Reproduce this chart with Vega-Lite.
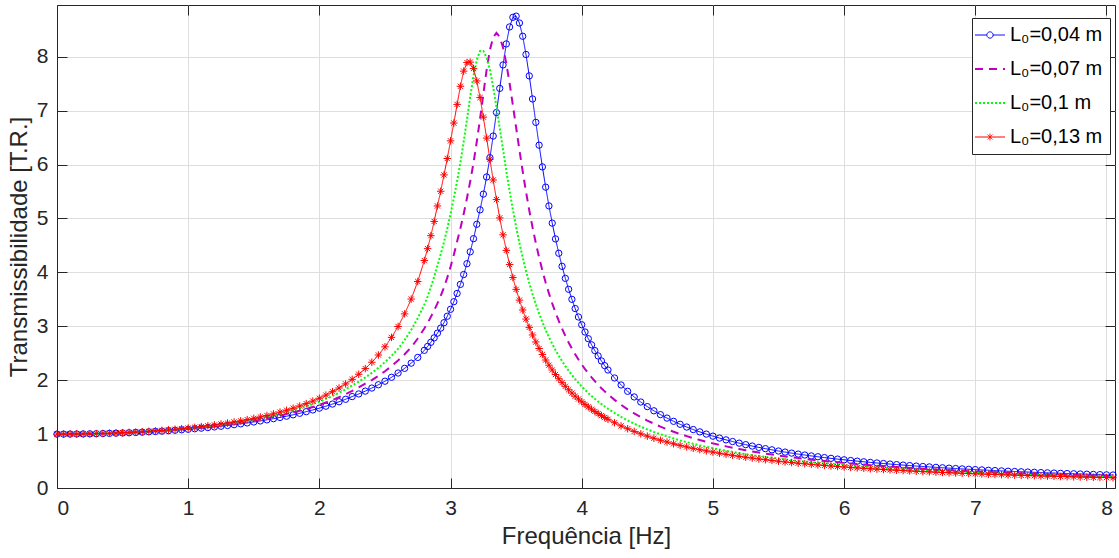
{
  "$schema": "https://vega.github.io/schema/vega-lite/v6.json",
  "width": 1058,
  "height": 483,
  "autosize": {"type": "none"},
  "padding": {"left": 57, "top": 5, "right": 4, "bottom": 70},
  "background": "white",
  "config": {
    "view": {"stroke": "#262626", "strokeWidth": 1},
    "font": "Liberation Sans",
    "axis": {
      "labelFont": "Liberation Sans", "labelFontSize": 21, "labelColor": "#262626",
      "titleFont": "Liberation Sans", "titleFontSize": 24, "titleFontWeight": "normal", "titleColor": "#262626",
      "domainColor": "#262626", "tickColor": "#262626", "gridColor": "#dedede", "gridWidth": 1,
      "tickSize": -10, "labelPadding": 19
    }
  },
  "data": {"values": [
    {"f":0,"a":1,"b":1,"c":1,"d":1},
    {"f":0.05,"a":1.000,"b":1.000,"c":1.000,"d":1.000},
    {"f":0.1,"a":1.001,"b":1.001,"c":1.001,"d":1.001},
    {"f":0.15,"a":1.002,"b":1.002,"c":1.002,"d":1.002},
    {"f":0.2,"a":1.003,"b":1.004,"c":1.004,"d":1.004},
    {"f":0.25,"a":1.005,"b":1.006,"c":1.006,"d":1.006},
    {"f":0.3,"a":1.007,"b":1.008,"c":1.009,"d":1.009},
    {"f":0.35,"a":1.010,"b":1.011,"c":1.012,"d":1.012},
    {"f":0.4,"a":1.013,"b":1.014,"c":1.015,"d":1.016},
    {"f":0.45,"a":1.017,"b":1.018,"c":1.020,"d":1.021},
    {"f":0.5,"a":1.021,"b":1.023,"c":1.024,"d":1.026},
    {"f":0.55,"a":1.025,"b":1.028,"c":1.029,"d":1.031},
    {"f":0.6,"a":1.030,"b":1.033,"c":1.035,"d":1.038},
    {"f":0.65,"a":1.036,"b":1.039,"c":1.042,"d":1.044},
    {"f":0.7,"a":1.042,"b":1.045,"c":1.049,"d":1.052},
    {"f":0.75,"a":1.048,"b":1.052,"c":1.056,"d":1.060},
    {"f":0.8,"a":1.055,"b":1.060,"c":1.064,"d":1.069},
    {"f":0.85,"a":1.063,"b":1.068,"c":1.073,"d":1.079},
    {"f":0.9,"a":1.071,"b":1.077,"c":1.083,"d":1.089},
    {"f":0.95,"a":1.080,"b":1.087,"c":1.093,"d":1.100},
    {"f":1.0,"a":1.089,"b":1.097,"c":1.105,"d":1.112},
    {"f":1.05,"a":1.099,"b":1.108,"c":1.117,"d":1.125},
    {"f":1.1,"a":1.110,"b":1.120,"c":1.129,"d":1.139},
    {"f":1.15,"a":1.121,"b":1.133,"c":1.143,"d":1.154},
    {"f":1.2,"a":1.133,"b":1.146,"c":1.158,"d":1.170},
    {"f":1.25,"a":1.146,"b":1.161,"c":1.174,"d":1.187},
    {"f":1.3,"a":1.160,"b":1.176,"c":1.190,"d":1.205},
    {"f":1.35,"a":1.175,"b":1.193,"c":1.209,"d":1.225},
    {"f":1.4,"a":1.190,"b":1.210,"c":1.228,"d":1.246},
    {"f":1.45,"a":1.207,"b":1.229,"c":1.248,"d":1.268},
    {"f":1.5,"a":1.225,"b":1.249,"c":1.270,"d":1.292},
    {"f":1.55,"a":1.244,"b":1.270,"c":1.293,"d":1.318},
    {"f":1.6,"a":1.264,"b":1.293,"c":1.318,"d":1.345},
    {"f":1.65,"a":1.286,"b":1.316,"c":1.345,"d":1.375},
    {"f":1.7,"a":1.309,"b":1.342,"c":1.374,"d":1.408},
    {"f":1.75,"a":1.332,"b":1.370,"c":1.405,"d":1.443},
    {"f":1.8,"a":1.358,"b":1.400,"c":1.439,"d":1.480},
    {"f":1.85,"a":1.386,"b":1.432,"c":1.475,"d":1.521},
    {"f":1.9,"a":1.416,"b":1.466,"c":1.514,"d":1.565},
    {"f":1.95,"a":1.448,"b":1.503,"c":1.556,"d":1.613},
    {"f":2.0,"a":1.481,"b":1.543,"c":1.602,"d":1.665},
    {"f":2.05,"a":1.518,"b":1.587,"c":1.652,"d":1.723},
    {"f":2.1,"a":1.557,"b":1.633,"c":1.706,"d":1.786},
    {"f":2.15,"a":1.600,"b":1.684,"c":1.765,"d":1.855},
    {"f":2.2,"a":1.646,"b":1.739,"c":1.830,"d":1.931},
    {"f":2.25,"a":1.696,"b":1.800,"c":1.902,"d":2.016},
    {"f":2.3,"a":1.745,"b":1.866,"c":1.973,"d":2.110},
    {"f":2.35,"a":1.797,"b":1.938,"c":2.051,"d":2.215},
    {"f":2.4,"a":1.854,"b":2.003,"c":2.136,"d":2.333},
    {"f":2.45,"a":1.915,"b":2.081,"c":2.230,"d":2.467},
    {"f":2.5,"a":1.981,"b":2.166,"c":2.335,"d":2.619},
    {"f":2.55,"a":2.054,"b":2.261,"c":2.451,"d":2.794},
    {"f":2.6,"a":2.133,"b":2.365,"c":2.581,"d":2.996},
    {"f":2.65,"a":2.220,"b":2.481,"c":2.745,"d":3.230},
    {"f":2.7,"a":2.316,"b":2.610,"c":2.933,"d":3.505},
    {"f":2.75,"a":2.422,"b":2.773,"c":3.151,"d":3.831},
    {"f":2.8,"a":2.554,"b":2.958,"c":3.400,"d":4.219},
    {"f":2.825,"a":2.626,"b":3.060,"c":3.552,"d":4.440},
    {"f":2.85,"a":2.703,"b":3.174,"c":3.725,"d":4.681},
    {"f":2.875,"a":2.785,"b":3.294,"c":3.917,"d":4.945},
    {"f":2.9,"a":2.872,"b":3.424,"c":4.129,"d":5.232},
    {"f":2.925,"a":2.966,"b":3.565,"c":4.337,"d":5.505},
    {"f":2.95,"a":3.066,"b":3.718,"c":4.564,"d":5.808},
    {"f":2.975,"a":3.186,"b":3.902,"c":4.812,"d":6.112},
    {"f":3.0,"a":3.315,"b":4.104,"c":5.083,"d":6.440},
    {"f":3.025,"a":3.456,"b":4.326,"c":5.377,"d":6.770},
    {"f":3.05,"a":3.609,"b":4.571,"c":5.694,"d":7.116},
    {"f":3.075,"a":3.777,"b":4.815,"c":6.034,"d":7.452},
    {"f":3.1,"a":3.960,"b":5.083,"c":6.421,"d":7.733},
    {"f":3.125,"a":4.161,"b":5.374,"c":6.833,"d":7.892},
    {"f":3.15,"a":4.381,"b":5.690,"c":7.263,"d":7.900},
    {"f":3.175,"a":4.625,"b":6.031,"c":7.647,"d":7.780},
    {"f":3.2,"a":4.892,"b":6.423,"c":7.943,"d":7.552},
    {"f":3.225,"a":5.160,"b":6.849,"c":8.107,"d":7.243},
    {"f":3.25,"a":5.452,"b":7.310,"c":8.107,"d":6.880},
    {"f":3.275,"a":5.770,"b":7.756,"c":7.986,"d":6.491},
    {"f":3.3,"a":6.128,"b":8.127,"c":7.755,"d":6.097},
    {"f":3.325,"a":6.529,"b":8.360,"c":7.441,"d":5.714},
    {"f":3.35,"a":6.966,"b":8.442,"c":7.072,"d":5.350},
    {"f":3.375,"a":7.413,"b":8.368,"c":6.676,"d":5.010},
    {"f":3.4,"a":7.848,"b":8.171,"c":6.275,"d":4.696},
    {"f":3.425,"a":8.238,"b":7.875,"c":5.883,"d":4.408},
    {"f":3.45,"a":8.553,"b":7.509,"c":5.511,"d":4.145},
    {"f":3.475,"a":8.731,"b":7.103,"c":5.163,"d":3.904},
    {"f":3.5,"a":8.753,"b":6.684,"c":4.841,"d":3.685},
    {"f":3.525,"a":8.626,"b":6.270,"c":4.545,"d":3.485},
    {"f":3.55,"a":8.380,"b":5.872,"c":4.275,"d":3.302},
    {"f":3.575,"a":8.042,"b":5.499,"c":4.028,"d":3.134},
    {"f":3.6,"a":7.645,"b":5.152,"c":3.802,"d":2.980},
    {"f":3.625,"a":7.217,"b":4.834,"c":3.597,"d":2.839},
    {"f":3.65,"a":6.783,"b":4.543,"c":3.408,"d":2.709},
    {"f":3.675,"a":6.360,"b":4.277,"c":3.236,"d":2.588},
    {"f":3.7,"a":5.957,"b":4.034,"c":3.078,"d":2.477},
    {"f":3.725,"a":5.581,"b":3.812,"c":2.932,"d":2.374},
    {"f":3.75,"a":5.233,"b":3.610,"c":2.798,"d":2.278},
    {"f":3.775,"a":4.914,"b":3.424,"c":2.674,"d":2.189},
    {"f":3.8,"a":4.621,"b":3.255,"c":2.559,"d":2.105},
    {"f":3.825,"a":4.355,"b":3.099,"c":2.453,"d":2.027},
    {"f":3.85,"a":4.112,"b":2.955,"c":2.354,"d":1.954},
    {"f":3.875,"a":3.889,"b":2.822,"c":2.262,"d":1.886},
    {"f":3.9,"a":3.686,"b":2.700,"c":2.176,"d":1.822},
    {"f":3.925,"a":3.500,"b":2.586,"c":2.096,"d":1.761},
    {"f":3.95,"a":3.329,"b":2.481,"c":2.021,"d":1.704},
    {"f":3.975,"a":3.172,"b":2.383,"c":1.950,"d":1.650},
    {"f":4.0,"a":3.028,"b":2.291,"c":1.884,"d":1.599},
    {"f":4.025,"a":2.894,"b":2.206,"c":1.821,"d":1.551},
    {"f":4.05,"a":2.770,"b":2.126,"c":1.762,"d":1.505},
    {"f":4.075,"a":2.656,"b":2.051,"c":1.707,"d":1.462},
    {"f":4.1,"a":2.549,"b":1.981,"c":1.654,"d":1.420},
    {"f":4.125,"a":2.450,"b":1.914,"c":1.604,"d":1.381},
    {"f":4.15,"a":2.357,"b":1.852,"c":1.557,"d":1.344},
    {"f":4.175,"a":2.270,"b":1.793,"c":1.512,"d":1.308},
    {"f":4.2,"a":2.189,"b":1.737,"c":1.470,"d":1.274},
    {"f":4.25,"a":2.041,"b":1.635,"c":1.391,"d":1.211},
    {"f":4.3,"a":1.911,"b":1.542,"c":1.319,"d":1.152},
    {"f":4.35,"a":1.794,"b":1.459,"c":1.253,"d":1.099},
    {"f":4.4,"a":1.689,"b":1.383,"c":1.193,"d":1.050},
    {"f":4.45,"a":1.595,"b":1.314,"c":1.138,"d":1.004},
    {"f":4.5,"a":1.510,"b":1.251,"c":1.087,"d":0.962},
    {"f":4.55,"a":1.432,"b":1.193,"c":1.040,"d":0.923},
    {"f":4.6,"a":1.361,"b":1.139,"c":0.997,"d":0.886},
    {"f":4.65,"a":1.297,"b":1.090,"c":0.956,"d":0.852},
    {"f":4.7,"a":1.237,"b":1.044,"c":0.919,"d":0.820},
    {"f":4.75,"a":1.182,"b":1.001,"c":0.883,"d":0.790},
    {"f":4.8,"a":1.131,"b":0.962,"c":0.851,"d":0.762},
    {"f":4.85,"a":1.084,"b":0.925,"c":0.820,"d":0.736},
    {"f":4.9,"a":1.041,"b":0.890,"c":0.791,"d":0.711},
    {"f":4.95,"a":1.000,"b":0.858,"c":0.763,"d":0.688},
    {"f":5.0,"a":0.962,"b":0.828,"c":0.738,"d":0.666},
    {"f":5.05,"a":0.926,"b":0.799,"c":0.713,"d":0.645},
    {"f":5.1,"a":0.893,"b":0.772,"c":0.691,"d":0.625},
    {"f":5.15,"a":0.862,"b":0.747,"c":0.669,"d":0.606},
    {"f":5.2,"a":0.832,"b":0.723,"c":0.648,"d":0.588},
    {"f":5.25,"a":0.804,"b":0.700,"c":0.629,"d":0.571},
    {"f":5.3,"a":0.778,"b":0.678,"c":0.610,"d":0.555},
    {"f":5.35,"a":0.753,"b":0.658,"c":0.593,"d":0.539},
    {"f":5.4,"a":0.730,"b":0.639,"c":0.576,"d":0.525},
    {"f":5.45,"a":0.708,"b":0.620,"c":0.560,"d":0.511},
    {"f":5.5,"a":0.686,"b":0.603,"c":0.545,"d":0.497},
    {"f":5.55,"a":0.666,"b":0.586,"c":0.530,"d":0.484},
    {"f":5.6,"a":0.647,"b":0.570,"c":0.516,"d":0.472},
    {"f":5.65,"a":0.629,"b":0.555,"c":0.503,"d":0.460},
    {"f":5.7,"a":0.612,"b":0.540,"c":0.490,"d":0.449},
    {"f":5.75,"a":0.595,"b":0.526,"c":0.478,"d":0.438},
    {"f":5.8,"a":0.580,"b":0.513,"c":0.466,"d":0.428},
    {"f":5.85,"a":0.564,"b":0.500,"c":0.455,"d":0.418},
    {"f":5.9,"a":0.550,"b":0.488,"c":0.444,"d":0.408},
    {"f":5.95,"a":0.536,"b":0.476,"c":0.434,"d":0.399},
    {"f":6.0,"a":0.523,"b":0.465,"c":0.424,"d":0.390},
    {"f":6.05,"a":0.510,"b":0.454,"c":0.415,"d":0.381},
    {"f":6.1,"a":0.498,"b":0.444,"c":0.405,"d":0.373},
    {"f":6.15,"a":0.486,"b":0.434,"c":0.396,"d":0.365},
    {"f":6.2,"a":0.475,"b":0.424,"c":0.388,"d":0.357},
    {"f":6.25,"a":0.464,"b":0.415,"c":0.380,"d":0.350},
    {"f":6.3,"a":0.454,"b":0.406,"c":0.372,"d":0.343},
    {"f":6.35,"a":0.444,"b":0.397,"c":0.364,"d":0.336},
    {"f":6.4,"a":0.434,"b":0.389,"c":0.357,"d":0.329},
    {"f":6.45,"a":0.425,"b":0.381,"c":0.349,"d":0.323},
    {"f":6.5,"a":0.416,"b":0.373,"c":0.342,"d":0.316},
    {"f":6.55,"a":0.407,"b":0.365,"c":0.336,"d":0.310},
    {"f":6.6,"a":0.399,"b":0.358,"c":0.329,"d":0.304},
    {"f":6.65,"a":0.391,"b":0.351,"c":0.323,"d":0.299},
    {"f":6.7,"a":0.383,"b":0.344,"c":0.317,"d":0.293},
    {"f":6.75,"a":0.375,"b":0.338,"c":0.311,"d":0.288},
    {"f":6.8,"a":0.368,"b":0.331,"c":0.305,"d":0.283},
    {"f":6.85,"a":0.361,"b":0.325,"c":0.299,"d":0.278},
    {"f":6.9,"a":0.354,"b":0.319,"c":0.294,"d":0.273},
    {"f":6.95,"a":0.347,"b":0.313,"c":0.289,"d":0.268},
    {"f":7.0,"a":0.341,"b":0.308,"c":0.284,"d":0.263},
    {"f":7.05,"a":0.335,"b":0.302,"c":0.279,"d":0.259},
    {"f":7.1,"a":0.329,"b":0.297,"c":0.274,"d":0.254},
    {"f":7.15,"a":0.323,"b":0.292,"c":0.269,"d":0.250},
    {"f":7.2,"a":0.317,"b":0.287,"c":0.265,"d":0.246},
    {"f":7.25,"a":0.311,"b":0.282,"c":0.260,"d":0.242},
    {"f":7.3,"a":0.306,"b":0.277,"c":0.256,"d":0.238},
    {"f":7.35,"a":0.301,"b":0.272,"c":0.252,"d":0.234},
    {"f":7.4,"a":0.296,"b":0.268,"c":0.248,"d":0.231},
    {"f":7.45,"a":0.291,"b":0.264,"c":0.244,"d":0.227},
    {"f":7.5,"a":0.286,"b":0.259,"c":0.240,"d":0.223},
    {"f":7.55,"a":0.281,"b":0.255,"c":0.236,"d":0.220},
    {"f":7.6,"a":0.277,"b":0.251,"c":0.233,"d":0.217},
    {"f":7.65,"a":0.272,"b":0.247,"c":0.229,"d":0.213},
    {"f":7.7,"a":0.268,"b":0.243,"c":0.226,"d":0.210},
    {"f":7.75,"a":0.264,"b":0.240,"c":0.222,"d":0.207},
    {"f":7.8,"a":0.260,"b":0.236,"c":0.219,"d":0.204},
    {"f":7.85,"a":0.256,"b":0.232,"c":0.216,"d":0.201},
    {"f":7.9,"a":0.252,"b":0.229,"c":0.212,"d":0.198},
    {"f":7.95,"a":0.248,"b":0.226,"c":0.209,"d":0.195},
    {"f":8.0,"a":0.244,"b":0.222,"c":0.206,"d":0.193},
    {"f":8.05,"a":0.241,"b":0.219,"c":0.203,"d":0.190}
  ]},
  "transform": [{"fold": ["a", "b", "c", "d"], "as": ["s", "v"]}],
  "encoding": {
    "x": {"field": "f", "type": "quantitative",
      "scale": {"domain": [0, 8.065], "nice": false, "zero": false},
      "axis": {"values": [0,1,2,3,4,5,6,7,8], "format": "d", "title": "Frequência [Hz]", "grid": true, "titlePadding": 6}},
    "y": {"field": "v", "type": "quantitative",
      "scale": {"domain": [0, 8.96], "nice": false},
      "axis": {"values": [0,1,2,3,4,5,6,7,8], "format": "d", "title": "Transmissibilidade [T.R.]", "grid": true, "titlePadding": 5}}
  },
  "layer": [
    {
      "layer": [
        {
          "transform": [{"filter": "datum.s == 'a'"}],
          "mark": {"type": "line", "strokeWidth": 1},
          "encoding": {
            "color": {"field": "s", "type": "nominal",
              "scale": {"domain": ["a", "b", "c", "d"], "range": ["#0000ff", "#bf00bf", "#00ff00", "#ff0000"]},
              "legend": {
                "title": null, "orient": "none", "legendX": 915, "legendY": 13,
                "fillColor": "white", "strokeColor": "#262626", "padding": 7,
                "symbolSize": 900, "symbolType": "stroke", "symbolStrokeWidth": 1, "symbolOffset": 1,
                "labelFont": "Liberation Sans", "labelFontSize": 20, "labelColor": "#000000",
                "labelOffset": 10, "rowPadding": 14,
                "labelExpr": "datum.value == 'a' ? 'L₀=0,04 m' : datum.value == 'b' ? 'L₀=0,07 m' : datum.value == 'c' ? 'L₀=0,1 m' : 'L₀=0,13 m'",
                "encode": {"symbols": {"update": {
                  "shape": {"signal": "datum.value == 'a' ? 'M-1,0H-0.21M0.21,0H1M0.21,0A0.21,0.21,0,1,1,-0.21,0A0.21,0.21,0,1,1,0.21,0' : datum.value == 'd' ? 'M-1,0H1M0,-0.23V0.23M-0.16,-0.16L0.16,0.16M-0.16,0.16L0.16,-0.16' : 'M-1,0H1'"},
                  "strokeDash": {"signal": "datum.value == 'b' ? [8,6] : datum.value == 'c' ? [2,2] : [1,0]"},
                  "strokeWidth": {"signal": "datum.value == 'b' || datum.value == 'c' ? 2 : 1"},
                  "fill": {"value": "transparent"}
                }}}
              }},
            "strokeDash": {"field": "s", "type": "nominal",
              "scale": {"domain": ["a", "b", "c", "d"], "range": [[1, 0], [8, 6], [2, 2], [1, 0]]}, "legend": null}
          }
        },
        {
          "transform": [{"filter": "datum.s == 'a'"}],
          "mark": {"type": "point", "shape": "circle", "filled": false, "stroke": "#0000ff", "strokeWidth": 1, "size": 40, "opacity": 1}
        },
        {
          "transform": [{"filter": "datum.s == 'b' || datum.s == 'c'"}],
          "mark": {"type": "line", "strokeWidth": 2},
          "encoding": {
            "color": {"field": "s", "type": "nominal",
              "scale": {"domain": ["a", "b", "c", "d"], "range": ["#0000ff", "#bf00bf", "#00ff00", "#ff0000"]}},
            "strokeDash": {"field": "s", "type": "nominal",
              "scale": {"domain": ["a", "b", "c", "d"], "range": [[1, 0], [8, 6], [2, 2], [1, 0]]}, "legend": null}
          }
        },
        {
          "transform": [{"filter": "datum.s == 'd'"}],
          "mark": {"type": "line", "strokeWidth": 1},
          "encoding": {
            "color": {"field": "s", "type": "nominal",
              "scale": {"domain": ["a", "b", "c", "d"], "range": ["#0000ff", "#bf00bf", "#00ff00", "#ff0000"]}},
            "strokeDash": {"field": "s", "type": "nominal",
              "scale": {"domain": ["a", "b", "c", "d"], "range": [[1, 0], [8, 6], [2, 2], [1, 0]]}, "legend": null}
          }
        },
        {
          "transform": [{"filter": "datum.s == 'd'"}],
          "mark": {"type": "point", "shape": "M-1,0H1M0,-1V1M-0.7,-0.7L0.7,0.7M-0.7,0.7L0.7,-0.7", "filled": false, "stroke": "#ff0000", "strokeWidth": 1, "size": 56, "opacity": 1}
        }
      ]
    },
    {
      "transform": [{"filter": "datum.s == 'a' && datum.f == 0"}],
      "mark": {"type": "point", "opacity": 0},
      "encoding": {
        "x": {"field": "f", "type": "quantitative",
          "scale": {"domain": [0, 8.065], "nice": false, "zero": false},
          "axis": {"orient": "top", "values": [0,1,2,3,4,5,6,7,8], "labels": false, "title": null, "grid": false, "domain": false, "tickSize": -10}},
        "y": {"field": "v", "type": "quantitative",
          "scale": {"domain": [0, 8.96], "nice": false},
          "axis": {"orient": "right", "values": [0,1,2,3,4,5,6,7,8], "labels": false, "title": null, "grid": false, "domain": false, "tickSize": -10}}
      }
    }
  ],
  "resolve": {"axis": {"x": "independent", "y": "independent"}}
}
